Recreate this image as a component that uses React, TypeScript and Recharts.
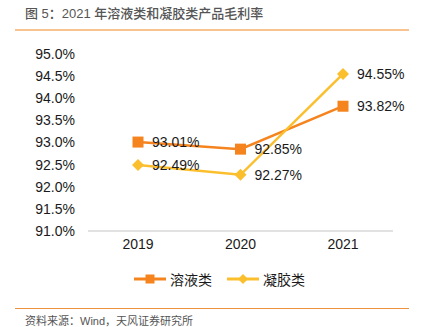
import React from "react";
import { LineChart, Line, XAxis, YAxis, LabelList } from "recharts";

const categories = ["2019", "2020", "2021"];
const solutionValues = [93.01, 92.85, 93.82];
const gelValues = [92.49, 92.27, 94.55];
const yTicks = [91, 91.5, 92, 92.5, 93, 93.5, 94, 94.5, 95];

const seriesNames = { solution: "溶液类", gel: "凝胶类" };
const ORANGE = "#F5841F";
const YELLOW = "#FBBF2E";

const data = categories.map((c, i) => ({
  year: c,
  solution: solutionValues[i],
  gel: gelValues[i],
}));

const SquareDot = (props: any) => {
  const { cx, cy } = props;
  if (cx == null || cy == null) return null;
  return <rect x={cx - 5.5} y={cy - 5.5} width={11} height={11} fill={ORANGE} />;
};

const DiamondDot = (props: any) => {
  const { cx, cy } = props;
  if (cx == null || cy == null) return null;
  const r = 6;
  return (
    <path
      d={`M${cx},${cy - r} L${cx + r},${cy} L${cx},${cy + r} L${cx - r},${cy} Z`}
      fill={YELLOW}
    />
  );
};

const ValueLabel = (props: any) => {
  const { x, y, value } = props;
  return (
    <text
      x={x + 14}
      y={y + 1.5}
      fontSize={14}
      fill="#1a1a1a"
      dominantBaseline="middle"
      fontFamily="'Liberation Sans', Arial, sans-serif"
    >
      {`${Number(value).toFixed(2)}%`}
    </text>
  );
};

const LegendBlock = () => (
  <div
    style={{
      position: "absolute",
      left: 134,
      top: 269,
      display: "flex",
      alignItems: "center",
      fontFamily: "'Noto Sans CJK SC', sans-serif",
      fontSize: 14,
      lineHeight: "20px",
      color: "#1a1a1a",
      whiteSpace: "nowrap",
    }}
  >
    <svg width={32} height={14} style={{ marginRight: 4 }}>
      <line x1={0} y1={7} x2={32} y2={7} stroke={ORANGE} strokeWidth={3} />
      <rect x={11.5} y={2.5} width={9} height={9} fill={ORANGE} />
    </svg>
    <span style={{ marginRight: 15 }}>{seriesNames.solution}</span>
    <svg width={32} height={14} style={{ marginRight: 4 }}>
      <line x1={0} y1={7} x2={32} y2={7} stroke={YELLOW} strokeWidth={3} />
      <path d="M16,2 L21,7 L16,12 L11,7 Z" fill={YELLOW} />
    </svg>
    <span>{seriesNames.gel}</span>
  </div>
);

export default function App() {
  return (
    <div
      style={{
        position: "absolute",
        left: 0,
        top: 0,
        width: 422,
        height: 327,
        background: "#fff",
        overflow: "hidden",
      }}
    >
      <div
        style={{
          position: "absolute",
          left: 25,
          top: 5,
          fontSize: 13,
          fontWeight: 500,
          color: "#555",
          lineHeight: "17px",
          fontFamily: "'Liberation Sans', 'Noto Sans CJK SC', sans-serif",
          whiteSpace: "nowrap",
        }}
      >
        图 5：2021 年溶液类和凝胶类产品毛利率
      </div>
      <div
        style={{
          position: "absolute",
          left: 15,
          top: 29,
          width: 394,
          height: 2,
          background: "#F9C390",
        }}
      />
      <div style={{ position: "absolute", left: 0, top: 0 }}>
        <LineChart
          width={422}
          height={300}
          data={data}
          margin={{ top: 54, right: 29, bottom: 39, left: 0 }}
        >
          <XAxis
            dataKey="year"
            height={30}
            padding={{ left: 50, right: 50 }}
            axisLine={{ stroke: "#d9d9d9", strokeWidth: 1.5 }}
            tickLine={false}
            tickSize={0}
            tickMargin={8}
            tick={{ fontSize: 14, fill: "#1a1a1a", fontFamily: "'Liberation Sans', Arial, sans-serif" }}
          />
          <YAxis
            domain={[91, 95]}
            ticks={yTicks}
            width={88}
            axisLine={false}
            tickLine={false}
            tickSize={0}
            tickMargin={13}
            interval={0}
            tickFormatter={(v: number) => `${v.toFixed(1)}%`}
            tick={{ fontSize: 14, fill: "#1a1a1a", fontFamily: "'Liberation Sans', Arial, sans-serif" }}
          />
          <Line
            type="linear"
            dataKey="solution"
            name={seriesNames.solution}
            stroke={ORANGE}
            strokeWidth={2.5}
            dot={<SquareDot />}
            activeDot={false}
            isAnimationActive={false}
          >
            <LabelList dataKey="solution" content={<ValueLabel />} />
          </Line>
          <Line
            type="linear"
            dataKey="gel"
            name={seriesNames.gel}
            stroke={YELLOW}
            strokeWidth={2.5}
            dot={<DiamondDot />}
            activeDot={false}
            isAnimationActive={false}
          >
            <LabelList dataKey="gel" content={<ValueLabel />} />
          </Line>
        </LineChart>
      </div>
      <LegendBlock />
      <div
        style={{
          position: "absolute",
          left: 15,
          top: 308,
          width: 394,
          height: 1,
          background: "#EE9240",
        }}
      />
      <div
        style={{
          position: "absolute",
          left: 25,
          top: 314,
          fontSize: 11,
          lineHeight: "14px",
          color: "#555",
          fontFamily: "'Liberation Sans', 'Noto Sans CJK SC', sans-serif",
          whiteSpace: "nowrap",
        }}
      >
        资料来源：Wind，天风证券研究所
      </div>
    </div>
  );
}
